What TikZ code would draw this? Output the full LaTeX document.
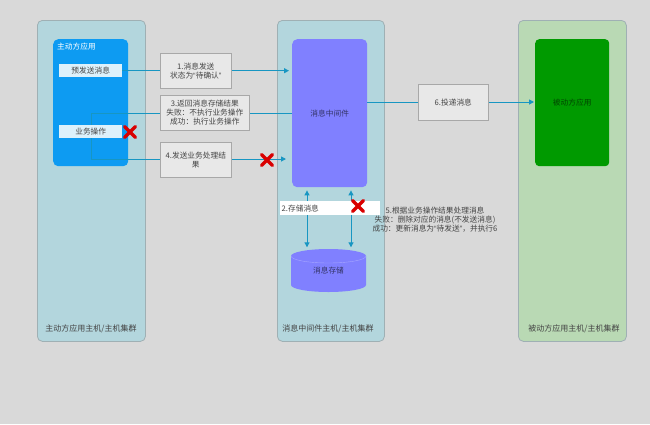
\documentclass[tikz,border=0pt]{standalone}
\usepackage{fontspec}
\setmainfont{Noto Sans CJK SC}
\newfontfamily\qfont{Liberation Sans}
\newcommand{\oq}{{\qfont “}}
\newcommand{\cq}{{\qfont ”}}
\usetikzlibrary{arrows.meta,calc}
\definecolor{bgc}{HTML}{D9D9D9}
\definecolor{clb}{HTML}{B3D6DD}
\definecolor{clg}{HTML}{B9D9B4}
\definecolor{clborder}{HTML}{9FB0B4}
\definecolor{inblue}{HTML}{0D9BF2}
\definecolor{purp}{HTML}{8080FF}
\definecolor{grn}{HTML}{009A00}
\definecolor{lbox}{HTML}{E8E8E8}
\definecolor{lboxb}{HTML}{A8A8A8}
\definecolor{linec}{HTML}{1796C2}
\definecolor{txt}{HTML}{444444}
\definecolor{wbox}{HTML}{DDF1FB}
\tikzset{
  cluster/.style={draw=clborder, line width=0.8pt, rounded corners=5pt, anchor=north west, inner sep=0pt},
  clabel/.style={font=\fontsize{8}{10}\selectfont, text=txt, inner sep=0pt},
  inner/.style={rounded corners=5pt, anchor=north west, inner sep=0pt},
  wbx/.style={fill=wbox, anchor=north west, inner sep=0pt, minimum width=63, minimum height=13, font=\fontsize{7.7}{9}\selectfont, text=txt},
  lab/.style={fill=lbox, draw=lboxb, line width=0.6pt, anchor=north west, inner sep=0pt, align=center, font=\fontsize{7.7}{9.2}\selectfont, text=txt},
  conn/.style={draw=linec, line width=1pt},
  tip/.style={-{Triangle[length=5pt,width=5pt]}},
  both/.style={{Triangle[length=5pt,width=5pt]}-{Triangle[length=5pt,width=5pt]}},
  rx/.style={draw=red!85!black, line width=3.2pt, line cap=round},
}
\begin{document}
\begin{tikzpicture}[x=1pt,y=-1pt]
\fill[bgc] (0,0) rectangle (650,424);
\useasboundingbox (0,0) rectangle (650,424);
% clusters
\node[cluster, fill=clb, minimum width=108, minimum height=321] (L) at (37,20) {};
\node[cluster, fill=clb, minimum width=107, minimum height=321] (M) at (277,20) {};
\node[cluster, fill=clg, minimum width=108, minimum height=321] (R) at (518,20) {};
\node[clabel] (Llab) at (91,329) {主动方应用主机/主机集群};
\node[clabel] (Mlab) at (328,329) {消息中间件主机/主机集群};
\node[clabel] (Rlab) at (574,329) {被动方应用主机/主机集群};
% inner boxes
\node[inner, fill=inblue, minimum width=75, minimum height=127] (app) at (53,39) {};
\node[font=\fontsize{7.7}{9}\selectfont, text=white, anchor=west, inner sep=0pt] (apptitle) at (57,47) {主动方应用};
\node[wbx] (pre) at (59,64) {预发送消息};
\node[wbx] (biz) at (59,125) {业务操作};
\node[inner, fill=purp, minimum width=75, minimum height=148, font=\fontsize{7.7}{9}\selectfont, text=black!60!purp] (mq) at (292,39) {消息中间件};
\node[inner, fill=grn, rounded corners=4pt, minimum width=74, minimum height=127, font=\fontsize{7.7}{9}\selectfont, text=black!55!grn] (pas) at (535,39) {被动方应用};
% cylinder
\fill[purp] (291,256) -- (291,285) arc[start angle=180, end angle=0, x radius=37.5, y radius=7] -- (366,256) arc[start angle=0, end angle=-180, x radius=37.5, y radius=7] -- cycle;
\draw[purp!70!white, line width=0.4pt] (291,256) arc[start angle=180, end angle=0, x radius=37.5, y radius=7];
\node[minimum width=75, minimum height=43, inner sep=0pt, font=\fontsize{7.7}{9}\selectfont, text=black!60!purp] (db) at (328.5,271) {消息存储};
% connectors
\coordinate (c3) at (91,113);
\coordinate (c4) at (91,159);
\coordinate (c6) at (0,102);
\draw[conn, tip, shorten >=3pt] (pre.east) -- (pre.east -| mq.west);
\draw[conn] (c3 -| mq.west) -- (c3) -- (c3 |- biz.north);
\draw[conn, tip, shorten >=6pt] (c4 |- biz.south) -- (c4) -- (c4 -| mq.west);
\draw[conn, tip, shorten >=1pt] (c6 -| mq.east) -- (c6 -| pas.west);
\coordinate (v1) at (307,0);
\coordinate (v2) at (351,0);
\draw[conn, both, shorten <=3pt, shorten >=2pt] (v1 |- mq.south) -- (v1 |- db.north);
\draw[conn, both, shorten <=3pt, shorten >=2pt] (v2 |- mq.south) -- (v2 |- db.north);
% label boxes
\node[lab, minimum width=71, minimum height=35] (l1) at (160,53) {1.消息发送\\状态为\oq 待确认\cq};
\node[lab, minimum width=89, minimum height=35] (l3) at (160,95) {3.返回消息存储结果\\失败：不执行业务操作\\成功：执行业务操作};
\node[lab, minimum width=71, minimum height=35] (l4) at (160,142) {4.发送业务处理结\\果};
\node[lab, minimum width=70, minimum height=36] (l6) at (418,84) {6.投递消息};
\node[fill=white, anchor=north west, inner sep=0pt, minimum width=100, minimum height=14, font=\fontsize{7.7}{9}\selectfont, text=txt, text width=97, align=left] (s2) at (280,201) {2.存储消息};
\node[inner sep=0pt, align=center, font=\fontsize{7.7}{9}\selectfont, text=txt] (s5) at (435,220) {5.根据业务操作结果处理消息\\失败：删除对应的消息(不发送消息)\\成功：更新消息为\oq 待发送\cq，并执行6};
% red crosses
\foreach \n/\cx/\cy in {x1/130/132, x2/267/160, x3/358/206}{
  \coordinate (\n) at (\cx,\cy);
  \draw[rx] ($(\n)+(-5.5,-5.5)$) -- ($(\n)+(5.5,5.5)$);
  \draw[rx] ($(\n)+(-5.5,5.5)$) -- ($(\n)+(5.5,-5.5)$);
}
\end{tikzpicture}
\end{document}
